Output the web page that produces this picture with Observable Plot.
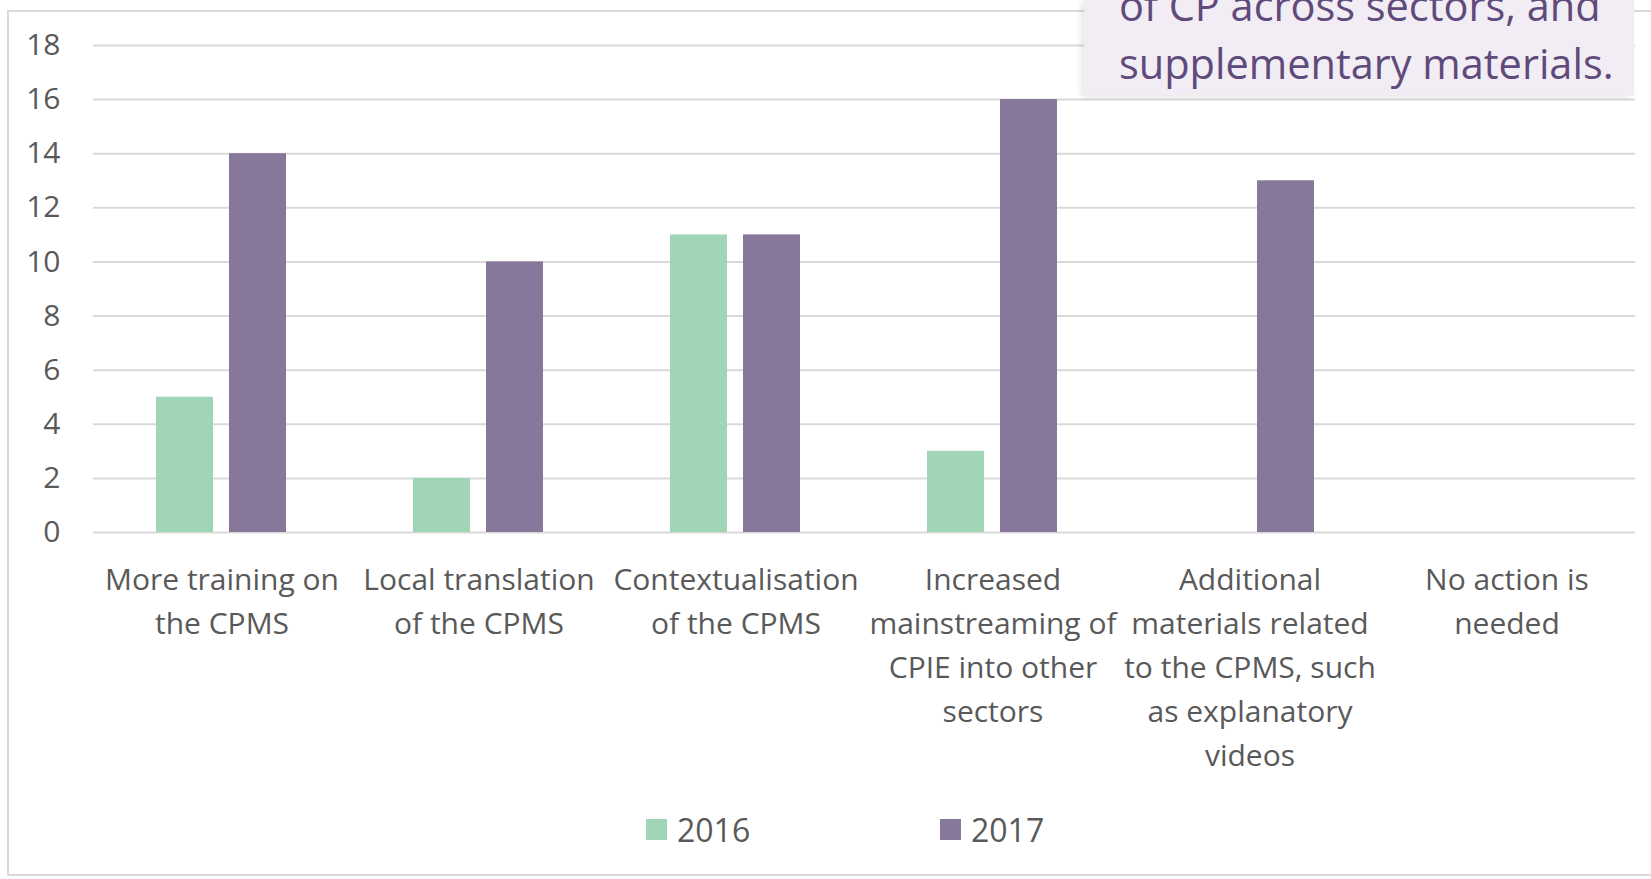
<!DOCTYPE html>
<html>
<head>
<meta charset="utf-8">
<script src="https://cdn.jsdelivr.net/npm/d3@7"></script>
<script src="https://cdn.jsdelivr.net/npm/@observablehq/plot@0.6"></script>
<style>
  html, body { margin: 0; padding: 0; background: #ffffff; }
  #wrap { position: relative; width: 1651px; height: 879px; overflow: hidden; font-family: "Open Sans", sans-serif; }
  #frame { position: absolute; left: 7px; top: 10px; width: 1700px; height: 866px; border: 2px solid #d9d9d9; box-sizing: border-box; }
  #chart { position: absolute; left: 0; top: 0; }
  #legend { position: absolute; left: 0; top: 806px; width: 1651px; height: 46px; }
  .item { position: absolute; top: 0; height: 46px; display: flex; align-items: center; font-size: 32px; color: #595959; }
  .sw { width: 21px; height: 21px; margin-right: 10px; }
  #note { position: absolute; left: 1084px; top: 0; width: 550px; height: 95px; background: #f2edf4; box-shadow: -3px 2px 6px rgba(0,0,0,0.10); overflow: hidden; }
  #note .txt { position: absolute; left: 35px; top: -24px; font-size: 41.5px; line-height: 58px; color: #5f4a7b; white-space: nowrap; }
</style>
</head>
<body>
<div id="wrap">
  <div id="frame"></div>
  <div id="chart"></div>
  <div id="legend"></div>
  <div id="note"><div class="txt">of CP across sectors, and<br>supplementary materials.</div></div>
</div>
<script>
const categories = [
  "More training on the CPMS",
  "Local translation of the CPMS",
  "Contextualisation of the CPMS",
  "Increased mainstreaming of CPIE into other sectors",
  "Additional materials related to the CPMS, such as explanatory videos",
  "No action is needed"
];
const categoryLabels = [
  "More training on\nthe CPMS",
  "Local translation\nof the CPMS",
  "Contextualisation\nof the CPMS",
  "Increased\nmainstreaming of\nCPIE into other\nsectors",
  "Additional\nmaterials related\nto the CPMS, such\nas explanatory\nvideos",
  "No action is\nneeded"
];
const years = ["2016", "2017"];
const values2016 = [5, 2, 11, 3, 0, 0];
const values2017 = [14, 10, 11, 16, 13, 0];
const yTicks = [0, 2, 4, 6, 8, 10, 12, 14, 16, 18];
const colors = ["#a0d5b5", "#86779b"];

const data = [];
categories.forEach((c, i) => {
  data.push({category: c, year: years[0], value: values2016[i]});
  data.push({category: c, year: years[1], value: values2017[i]});
});
const labelOf = new Map(categories.map((c, i) => [c, categoryLabels[i]]));

const chart = Plot.plot({
  width: 1651,
  height: 790,
  marginTop: 45,
  marginBottom: 258,
  marginLeft: 91,
  marginRight: 15,
  style: {fontFamily: "Open Sans", color: "#595959", background: "transparent"},
  fx: {domain: categories, padding: 0, axis: null, label: null},
  x: {domain: years, paddingInner: 0.214, paddingOuter: 0.859, axis: null},
  y: {domain: [0, 18], axis: null},
  color: {domain: years, range: colors},
  marks: [
    Plot.ruleY(yTicks, {stroke: "#d9d9d9", strokeWidth: 2}),
    Plot.barY(data, {fx: "category", x: "year", y: "value", fill: "year"}),
    Plot.axisY({ticks: yTicks, tickSize: 0, tickPadding: 33, label: null, fontSize: 30}),
    Plot.text(categories, {
      fx: d => d,
      text: d => labelOf.get(d),
      frameAnchor: "bottom",
      lineAnchor: "top",
      dy: 26,
      lineHeight: 1.467,
      fontSize: 30,
      fill: "#595959"
    })
  ]
});
document.getElementById("chart").appendChild(chart);

const legend = document.getElementById("legend");
const legendLeft = [646, 940];
years.forEach((y, i) => {
  const item = document.createElement("div");
  item.className = "item";
  item.style.left = legendLeft[i] + "px";
  const sw = document.createElement("div");
  sw.className = "sw";
  sw.style.background = colors[i];
  item.appendChild(sw);
  const t = document.createElement("span");
  t.textContent = y;
  item.appendChild(t);
  legend.appendChild(item);
});
</script>
</body>
</html>
